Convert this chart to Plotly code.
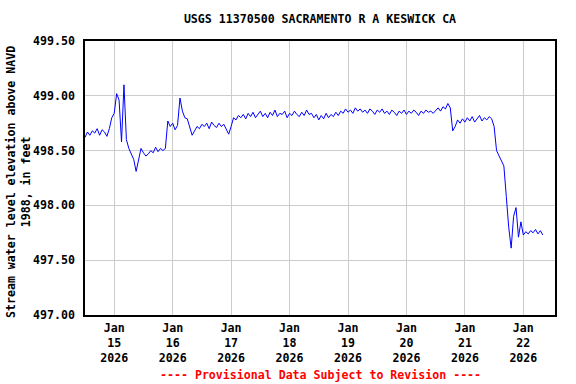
import pandas as pd
import plotly.graph_objects as go

title_text = "USGS 11370500 SACRAMENTO R A KESWICK CA"
y_title = "Stream water level elevation above NAVD<br>1988, in feet"
footer_text = "---- Provisional Data Subject to Revision ----"

start_time = "2026-01-14 12:00"
stage_ft = [
    498.62, 498.67, 498.64, 498.68, 498.66, 498.70, 498.64, 498.69, 498.67, 498.63, 498.70,
    498.80, 498.84, 499.02, 498.96, 498.58, 499.10, 498.60, 498.52, 498.47, 498.42, 498.31,
    498.42, 498.52, 498.48, 498.45, 498.47, 498.50, 498.48, 498.53, 498.49, 498.52, 498.50, 498.52,
    498.77, 498.72, 498.75, 498.69, 498.73, 498.98, 498.86, 498.80, 498.79, 498.72,
    498.64, 498.68, 498.72, 498.70, 498.74, 498.72, 498.75, 498.70, 498.76, 498.73,
    498.71, 498.75, 498.72, 498.74, 498.70, 498.65, 498.72, 498.80, 498.78, 498.82,
    498.80, 498.83, 498.79, 498.84, 498.81, 498.85, 498.80, 498.83, 498.86, 498.81,
    498.84, 498.80, 498.85, 498.82, 498.87, 498.81, 498.84, 498.83, 498.86, 498.80,
    498.84, 498.82, 498.86, 498.83, 498.81, 498.85, 498.82, 498.87, 498.83, 498.84,
    498.80, 498.83, 498.78, 498.82, 498.79, 498.84, 498.80, 498.83, 498.81, 498.85,
    498.82, 498.86, 498.84, 498.88, 498.85, 498.87, 498.84, 498.89, 498.86, 498.88,
    498.85, 498.87, 498.84, 498.88, 498.86, 498.83, 498.87, 498.85, 498.88, 498.84,
    498.86, 498.83, 498.87, 498.85, 498.82, 498.86, 498.84, 498.87, 498.83, 498.86,
    498.84, 498.87, 498.85, 498.82, 498.86, 498.84, 498.87, 498.85, 498.86, 498.84,
    498.87, 498.89, 498.86, 498.90, 498.88, 498.93, 498.89, 498.68, 498.72, 498.78,
    498.75, 498.79, 498.76, 498.80, 498.77, 498.81, 498.76, 498.79, 498.82, 498.77,
    498.80, 498.78, 498.81, 498.79,
    498.72, 498.50, 498.45, 498.40, 498.36, 498.08, 497.80, 497.61, 497.90, 497.98,
    497.71, 497.85, 497.73, 497.76, 497.74, 497.77, 497.75, 497.78, 497.74, 497.77, 497.73,
]

x_tick_dates = ["2026-01-15", "2026-01-16", "2026-01-17", "2026-01-18",
                "2026-01-19", "2026-01-20", "2026-01-21", "2026-01-22"]
x_tick_labels = ["Jan<br>15<br>2026", "Jan<br>16<br>2026", "Jan<br>17<br>2026", "Jan<br>18<br>2026",
                 "Jan<br>19<br>2026", "Jan<br>20<br>2026", "Jan<br>21<br>2026", "Jan<br>22<br>2026"]
y_tick_vals = [497.0, 497.5, 498.0, 498.5, 499.0, 499.5]
y_tick_labels = ["497.00", "497.50", "498.00", "498.50", "499.00", "499.50"]

times = pd.date_range(start_time, periods=len(stage_ft), freq="h")

font_family = "DejaVu Sans Mono"
fs = 11.6
tfont = dict(family=font_family, size=fs, color="black", weight="bold")

fig = go.Figure()
fig.add_trace(go.Scatter(x=times, y=stage_ft, mode="lines",
                         line=dict(color="#0000ff", width=1), showlegend=False))

fig.update_layout(
    width=576, height=384,
    margin=dict(l=85, r=21, t=41, b=69, autoexpand=False),
    paper_bgcolor="white", plot_bgcolor="white",
    font=tfont,
    title=dict(text=title_text, x=320 / 576, xanchor="center", y=1 - 19 / 384, yanchor="middle",
               font=tfont),
    xaxis=dict(
        range=["2026-01-14 12:00", "2026-01-22 13:00"],
        tickvals=x_tick_dates, ticktext=x_tick_labels,
        showgrid=True, gridcolor="#cccccc", gridwidth=1,
        showline=True, linecolor="black", linewidth=1.5, mirror=True,
        ticks="", zeroline=False, ticklabelstandoff=1, automargin=False,
        tickfont=tfont,
    ),
    yaxis=dict(
        range=[497.0, 499.5],
        tickvals=y_tick_vals, ticktext=y_tick_labels,
        showgrid=True, gridcolor="#cccccc", gridwidth=1,
        showline=True, linecolor="black", linewidth=1.5, mirror=True,
        ticks="", zeroline=False, ticklabelstandoff=6, automargin=False,
        tickfont=tfont,
    ),
    annotations=[
        dict(text=y_title, xref="paper", yref="paper",
             x=(18 - 85) / 470, y=(315 - 182) / 274, xanchor="center", yanchor="middle",
             textangle=-90, showarrow=False, font=tfont),
        dict(text=footer_text, xref="paper", yref="paper",
             x=0.5, y=-(375 - 315) / 274, xanchor="center", yanchor="middle",
             showarrow=False,
             font=dict(family=font_family, size=fs, color="red", weight="bold")),
    ],
)

fig.write_html("out.html")
